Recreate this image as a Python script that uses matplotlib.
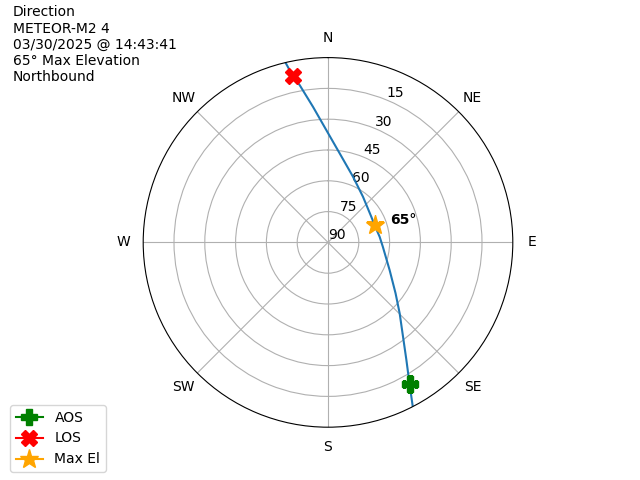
import numpy as np
import matplotlib
matplotlib.use("Agg")
import matplotlib.pyplot as plt

# Pass track (azimuth deg, elevation deg), AOS -> LOS
track_az = [152.7, 150.1, 146.3, 141.5, 134.7, 127.0, 114.2, 94.6, 83.8, 69.7, 59.5,
            37.5, 20.9, 7.5, 359.2, 353.7, 349.8, 348.1, 346.7]
track_el = [0.0, 10.3, 21.2, 31.3, 40.9, 48.8, 57.1, 63.2, 64.7, 65.8, 65.5,
            62.0, 55.8, 46.3, 35.4, 23.6, 12.2, 7.3, 0.0]

aos_az, aos_el = 150.1, 10.3
los_az, los_el = 348.1, 7.3
max_az, max_el = 69.7, 65.8

compass_angles = [0, 45, 90, 135, 180, 225, 270, 315]
compass_labels = ["N", "NE", "E", "SE", "S", "SW", "W", "NW"]
r_ticks = [0, 15, 30, 45, 60, 75]
r_labels = ["90", "75", "60", "45", "30", "15"]

info_text = "Direction\nMETEOR-M2 4\n03/30/2025 @ 14:43:41\n65° Max Elevation\nNorthbound"

fig = plt.figure(figsize=(6.4, 4.8), dpi=100)
ax = fig.add_subplot(111, projection="polar")
ax.set_theta_zero_location("N")
ax.set_theta_direction(-1)

az = np.unwrap(np.radians(track_az))
r = 90 - np.array(track_el)
ax.plot(az, r, color="C0")

ax.plot(np.radians(aos_az), 90 - aos_el, marker="P", color="green", markersize=12, label="AOS")
ax.plot(np.radians(los_az), 90 - los_el, marker="X", color="red", markersize=12, label="LOS")
ax.plot(np.radians(max_az), 90 - max_el, marker="*", color="orange", markersize=14, label="Max El")
ax.annotate("65°", xy=(np.radians(max_az), 90 - max_el), xytext=(11, 4),
            textcoords="offset points", fontweight="bold", fontsize=10, va="center")

ax.set_ylim(0, 90)
ax.set_yticks(r_ticks)
ax.set_yticklabels(r_labels)
ax.set_xticks(np.radians(compass_angles))
ax.set_xticklabels(compass_labels)

fig.text(13 / 640, 1 - 5.5 / 480, info_text, ha="left", va="top", fontsize=10)
ax.legend(loc="lower left", bbox_to_anchor=(10 / 640, 8 / 480),
          bbox_transform=fig.transFigure, borderaxespad=0)

fig.savefig("out.png", dpi=100)
